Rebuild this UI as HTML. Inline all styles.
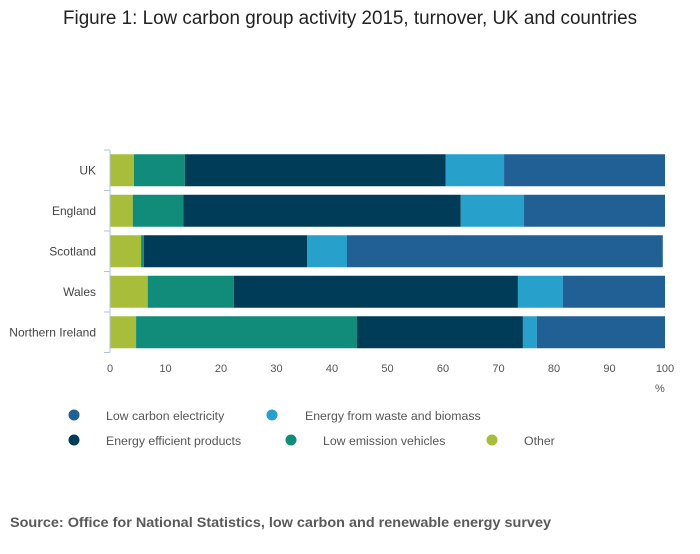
<!DOCTYPE html>
<html><head><meta charset="utf-8"><style>
body{margin:0;background:#fff;font-family:"Liberation Sans",sans-serif;}
svg text{font-family:"Liberation Sans",sans-serif;}
</style></head><body>
<svg id="chart" width="700" height="549" xmlns="http://www.w3.org/2000/svg">
<text x="350" y="24" text-anchor="middle" font-size="19" textLength="574" lengthAdjust="spacingAndGlyphs" fill="#222">Figure 1: Low carbon group activity 2015, turnover, UK and countries</text>
<g id="bars"></g><g id="axes"></g><g id="legend"></g>
<text x="10" y="527" font-size="14" font-weight="bold" textLength="541" lengthAdjust="spacingAndGlyphs" fill="#595959">Source: Office for National Statistics, low carbon and renewable energy survey</text>
</svg>
<script>
const categories=["UK","England","Scotland","Wales","Northern Ireland"];
const seriesNames=["Other","Low emission vehicles","Energy efficient products","Energy from waste and biomass","Low carbon electricity"];
const other=[4.3,4.1,5.6,6.8,4.7];
const lowEmission=[9.2,9.1,0.5,15.5,39.8];
const efficient=[47.0,50.0,29.4,51.2,29.9];
const waste=[10.5,11.4,7.2,8.1,2.5];
const electricity=[29.0,25.4,56.9,18.4,23.1];
const xTicks=[0,10,20,30,40,50,60,70,80,90,100];
const colors=["#a8bd3a","#118c7b","#003c57","#27a0cc","#206095"];
const series=[other,lowEmission,efficient,waste,electricity];
const NS="http://www.w3.org/2000/svg";
const x=v=>110+v*5.55;
const bandTop=150, band=40.5, barH=32;
const y=i=>bandTop+i*band+(band-barH)/2;
function mk(t,a,p){const e=document.createElementNS(NS,t);for(const k in a)e.setAttribute(k,a[k]);p.appendChild(e);return e;}
const gb=document.getElementById('bars'),ga=document.getElementById('axes'),gl=document.getElementById('legend');
categories.forEach((c,i)=>{let acc=0;
 series.forEach((s,j)=>{const r=mk('rect',{x:x(acc),y:y(i),width:s[i]*5.55,height:barH,fill:colors[j]},gb);
  
  
  acc+=s[i];});
 const t=mk('text',{x:96,y:y(i)+barH/2+4,'text-anchor':'end','font-size':12,fill:'#444'},ga);t.textContent=c;
 
 
});
const ax=mk('line',{x1:110,x2:110,y1:bandTop,y2:bandTop+band*5,stroke:'#b0c4de'},ga);


for(let i=0;i<=5;i++){const tk=mk('line',{x1:104,x2:110,y1:bandTop+i*band,y2:bandTop+i*band,stroke:'#b0c4de'},ga);
 
 }
xTicks.forEach(v=>{const t=mk('text',{x:x(v),y:372,'text-anchor':'middle','font-size':11,fill:'#555'},ga);t.textContent=v;
 
 });
const pct=mk('text',{x:655,y:392,'font-size':11,fill:'#555'},ga);pct.textContent='%';


const leg=[[4,74,415,106],[3,272,415,305],[2,74,440,106],[1,291,440,323],[0,492,440,524]];
leg.forEach(([j,cx,cy,tx])=>{
 const g=mk('g',{},gl);
 
 
 mk('circle',{cx:cx,cy:cy,r:5.5,fill:colors[j]},g);
 const t=mk('text',{x:tx,y:cy+5,'font-size':12.3,fill:'#555'},g);t.textContent=seriesNames[j];
});
</script>
</body></html>
